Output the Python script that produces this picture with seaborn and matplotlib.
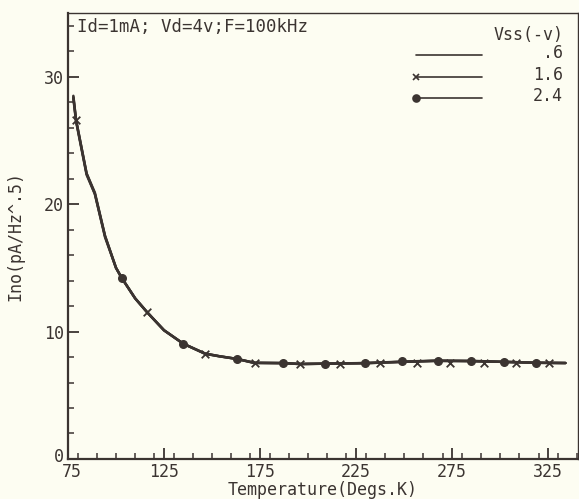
import matplotlib
matplotlib.use("Agg")
import matplotlib.pyplot as plt
import matplotlib.transforms as mtransforms
import seaborn as sns
import pandas as pd
from matplotlib.ticker import MultipleLocator

# ---- data ----
curve_temp = [77.8, 79.2, 84.7, 89.0, 94.3, 100.0, 103.0, 110.0, 116.3, 125.0, 135.0,
              146.4, 154.0, 163.0, 172.0, 187.0, 196.0, 209.0, 230.0, 249.0, 267.0,
              285.0, 302.0, 319.0, 334.0]
ino_06 = [28.5, 26.6, 22.4, 20.9, 17.5, 15.0, 14.2, 12.6, 11.5, 10.1, 9.05,
          8.27, 8.06, 7.85, 7.55, 7.52, 7.45, 7.48, 7.52, 7.62, 7.70,
          7.68, 7.62, 7.55, 7.53]
ino_16 = [28.4, 26.6, 22.4, 20.8, 17.5, 15.0, 14.2, 12.6, 11.5, 10.1, 9.05,
          8.27, 8.06, 7.85, 7.53, 7.52, 7.45, 7.48, 7.52, 7.62, 7.70,
          7.68, 7.62, 7.55, 7.53]
ino_24 = [28.3, 26.5, 22.3, 20.8, 17.4, 15.0, 14.2, 12.6, 11.5, 10.1, 9.05,
          8.25, 8.05, 7.85, 7.55, 7.53, 7.46, 7.48, 7.53, 7.64, 7.72,
          7.70, 7.62, 7.55, 7.53]

mark16_temp = [79.2, 116.3, 146.4, 172.4, 195.8, 216.7, 237.5, 256.6, 274.0, 291.7, 308.3, 325.2]
mark16_ino = [26.6, 11.5, 8.27, 7.53, 7.45, 7.48, 7.50, 7.53, 7.55, 7.55, 7.53, 7.53]
mark24_temp = [103.0, 135.0, 162.9, 187.1, 208.9, 229.7, 248.8, 267.4, 284.7, 302.0, 318.8]
mark24_ino = [14.2, 9.05, 7.85, 7.53, 7.48, 7.53, 7.66, 7.72, 7.70, 7.62, 7.55]

legend_labels = [".6", "1.6", "2.4"]
legend_title = "Vss(-v)"
note = "Id=1mA; Vd=4v;F=100kHz"
x_ticks = [75, 125, 175, 225, 275, 325]
y_ticks = [0, 10, 20, 30]

BG = "#fdfdf2"
INK = "#3b3431"

sns.set_theme(style="ticks")
plt.rcParams["font.family"] = ["DejaVu Sans Mono", "DejaVu Sans"]

fig = plt.figure(figsize=(5.79, 4.99), dpi=100, facecolor=BG)
ax = fig.add_axes([0.1174, 0.0802, 0.8808, 0.8938])
ax.set_facecolor(BG)

df = pd.DataFrame({"T": curve_temp * 3,
                   "I": ino_06 + ino_16 + ino_24,
                   "V": [legend_labels[0]] * len(curve_temp) + [legend_labels[1]] * len(curve_temp)
                        + [legend_labels[2]] * len(curve_temp)})
sns.lineplot(data=df, x="T", y="I", units="V", estimator=None, color=INK, lw=1.8,
             ax=ax, legend=False)
sns.scatterplot(x=mark16_temp, y=mark16_ino, marker="x", s=30, color=INK, linewidth=1.3, ax=ax)
sns.scatterplot(x=mark24_temp, y=mark24_ino, marker="o", s=30, color=INK, edgecolor=INK,
                linewidth=1.0, ax=ax)

ax.set_xlim(75, 340.5)
ax.set_ylim(0, 35)
ax.set_xticks(x_ticks)
ax.set_yticks(y_ticks)
ax.xaxis.set_minor_locator(MultipleLocator(10))
ax.yaxis.set_minor_locator(MultipleLocator(2))
ax.tick_params(which="major", direction="in", length=8, width=1.3, color=INK,
               labelsize=12, labelcolor=INK, pad=3)
ax.tick_params(which="minor", direction="in", length=4, width=1.1, color=INK)
for s in ["left", "bottom"]:
    ax.spines[s].set_linewidth(1.6)
    ax.spines[s].set_color(INK)
for s in ["top", "right"]:
    ax.spines[s].set_linewidth(1.0)
    ax.spines[s].set_color(INK)

# nudge the "0" and "75" labels apart slightly, as in the reference
ylabels = ax.get_yticklabels()
ylabels[0].set_transform(ylabels[0].get_transform() +
                         mtransforms.ScaledTranslation(0, 4 / 100, fig.dpi_scale_trans))
xlabels = ax.get_xticklabels()
xlabels[0].set_transform(xlabels[0].get_transform() +
                         mtransforms.ScaledTranslation(4 / 100, 0, fig.dpi_scale_trans))

ax.set_xlabel("Temperature(Degs.K)", fontsize=12, color=INK, labelpad=0)
ax.set_ylabel("Ino(pA/Hz^.5)", fontsize=12, color=INK, labelpad=14)

ax.text(0.018, 0.969, note, transform=ax.transAxes, fontsize=12.5, color=INK,
        ha="left", va="center")

# legend drawn in plotter style
ax.text(0.971, 0.951, legend_title, transform=ax.transAxes, fontsize=12, color=INK,
        ha="right", va="center")
leg_y = [0.906, 0.857, 0.809]
leg_mark = [None, "x", "o"]
for lab, yy, mk in zip(legend_labels, leg_y, leg_mark):
    ax.plot([0.682, 0.812], [yy, yy], transform=ax.transAxes, color=INK, lw=1.2)
    if mk:
        ax.plot([0.682], [yy], transform=ax.transAxes, marker=mk, color=INK, ms=5,
                mew=1.2, ls="none")
    ax.text(0.971, yy + 0.004, lab, transform=ax.transAxes, fontsize=12, color=INK,
            ha="right", va="center")

fig.savefig("out.png", dpi=100, facecolor=BG)
